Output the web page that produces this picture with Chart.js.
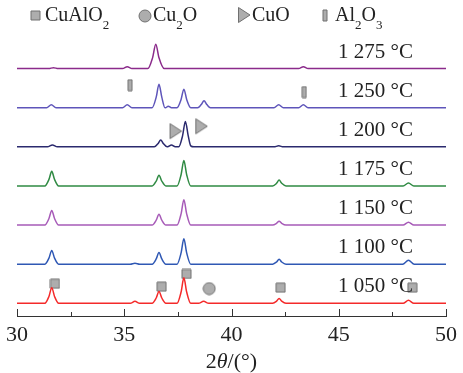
<!DOCTYPE html>
<html>
<head>
<meta charset="utf-8">
<script src="https://cdn.jsdelivr.net/npm/chart.js@4/dist/chart.umd.min.js"></script>
<style>
  body { margin: 0; background: #fff; }
  canvas { display: block; }
</style>
</head>
<body>
<canvas id="xrd" width="463" height="373"></canvas>
<script>
// XRD patterns, [2theta, intensity] (bottom to top)
const temps = ['1 050 °C', '1 100 °C', '1 150 °C', '1 175 °C', '1 200 °C', '1 250 °C', '1 275 °C'];
const colors = ['#f42a2a', '#2f58b4', '#a75bb8', '#2f8a43', '#2b2a6e', '#5e55ba', '#8b2b8b'];

const p1050 = [[30,0],[31.3,0],[31.49,7],[31.62,16],[31.75,7],[31.94,0],[35.28,0],[35.5,2],[35.72,0],
  [36.3,0],[36.49,5.4],[36.62,12],[36.75,5.4],[36.94,0],[37.46,0],[37.65,11.5],[37.78,26],[37.91,11.5],[38.1,0],
  [38.46,0],[38.7,2],[38.94,0],[41.92,0],[42.1,2.2],[42.22,5],[42.34,2.2],[42.54,0],[48.0,0],[48.25,3],[48.5,0],[50,0]];
const p1100 = [[30,0],[31.3,0],[31.49,6.2],[31.62,14],[31.75,6.2],[31.94,0],[35.28,0],[35.5,1],[35.72,0],
  [36.3,0],[36.49,5.4],[36.62,12],[36.75,5.4],[36.94,0],[37.46,0],[37.65,11.5],[37.78,26],[37.91,11.5],[38.1,0],
  [41.92,0],[42.1,2.2],[42.22,5],[42.34,2.2],[42.54,0],[47.98,0],[48.25,4],[48.52,0],[50,0]];
const p1150 = [[30,0],[31.3,0],[31.49,6.7],[31.62,15],[31.75,6.7],[31.94,0],
  [36.3,0],[36.49,5],[36.62,11],[36.75,5],[36.94,0],[37.46,0],[37.65,11.5],[37.78,26],[37.91,11.5],[38.1,0],
  [41.92,0],[42.1,1.8],[42.22,4],[42.34,1.8],[42.54,0],[48.0,0],[48.25,3],[48.5,0],[50,0]];
const p1175 = [[30,0],[31.3,0],[31.49,6.7],[31.62,15],[31.75,6.7],[31.94,0],
  [36.3,0],[36.49,5],[36.62,11],[36.75,5],[36.94,0],[37.46,0],[37.65,11.5],[37.78,26],[37.91,11.5],[38.1,0],
  [41.92,0],[42.1,2.7],[42.22,6],[42.34,2.7],[42.54,0],[48.0,0],[48.25,3],[48.5,0],[50,0]];
const p1200 = [[30,0],[31.42,0],[31.65,2],[31.88,0],[36.4,0],[36.57,3.2],[36.7,7],[36.83,3.2],[37.0,0],
  [37.02,0],[37.2,2],[37.38,0],[37.54,0],[37.72,11.5],[37.85,26],[37.98,11.5],[38.1,1],[38.25,0],
  [41.98,0],[42.2,1],[42.42,0],[50,0]];
const p1250 = [[30,0],[31.38,0],[31.6,3],[31.82,0],[34.92,0],[35.14,3],[35.36,0],
  [36.3,0],[36.49,10.8],[36.62,24],[36.75,10.8],[36.9,0],[36.92,0],[37.05,1.5],[37.2,0],
  [37.46,0],[37.65,8.5],[37.78,19],[37.91,8.5],[38.1,0],[38.42,0],[38.59,3.2],[38.72,7],[38.85,3.2],[39.02,0],
  [41.98,0],[42.2,3],[42.42,0],[43.13,0],[43.35,3],[43.57,0],[50,0]];
const p1275 = [[30,0],[31.48,0],[31.7,1],[31.92,0],[34.92,0],[35.14,2],[35.36,0],
  [36.1,0],[36.32,11],[36.47,25],[36.62,11],[36.86,0],[43.13,0],[43.35,2],[43.57,0],[50,0]];
const patterns = [p1050, p1100, p1150, p1175, p1200, p1250, p1275];

// phase markers [2theta, height in plot units]
const cualo2Marks = [[31.77,33],[36.74,30],[37.9,43],[42.29,29],[48.43,29]];
const cu2oMarks = [[38.96,28]];
const cuoMarks = [[37.39,189],[38.59,194]];
const al2o3Marks = [[35.27,236],[43.39,229]];

const xTicks = { min: 30, max: 50, step: 2.5 };
const baseOffset = 13, stackStep = 40;

const serif = '"Liberation Serif", "DejaVu Serif", serif';
const markFill = '#adadad', markEdge = '#707070';

function markerCanvas(kind) {
  const c = document.createElement('canvas');
  const size = { tri: [14, 18], bar: [6, 13], sq: [11, 11], circ: [14, 14] }[kind];
  c.width = size[0]; c.height = size[1];
  const g = c.getContext('2d');
  g.fillStyle = markFill; g.strokeStyle = markEdge; g.lineWidth = 1;
  g.beginPath();
  if (kind === 'tri') {
    g.moveTo(1.5, 1.5); g.lineTo(13, 9); g.lineTo(1.5, 16.5); g.closePath();
  } else if (kind === 'bar') {
    g.rect(1, 1, 4, 11);
  } else if (kind === 'sq') {
    g.rect(1, 1, 9, 9);
  } else {
    g.arc(7, 7, 6, 0, Math.PI * 2);
  }
  g.fill(); g.stroke();
  return c;
}
const imgSq = markerCanvas('sq'), imgCirc = markerCanvas('circ'), imgTri = markerCanvas('tri'), imgBar = markerCanvas('bar');

const lineSets = patterns.map((p, i) => ({
  type: 'line',
  label: temps[i],
  data: p.map(([x, y]) => ({ x, y: y + baseOffset + i * stackStep })),
  borderColor: colors[i],
  borderWidth: 1.5,
  pointRadius: 0,
  cubicInterpolationMode: 'monotone',
  fill: false
}));

function markSet(marks, img) {
  return {
    type: 'scatter',
    data: marks.map(([x, y]) => ({ x, y })),
    pointStyle: img,
    pointRadius: 6,
    showLine: false
  };
}

function drawChem(ctx, x, y, parts, size) {
  for (const [txt, sub] of parts) {
    ctx.font = (sub ? Math.round(size * 0.65) : size) + 'px ' + serif;
    ctx.fillText(txt, x, sub ? y + 8 : y);
    x += ctx.measureText(txt).width;
  }
}

const decor = {
  id: 'decor',
  afterDraw(chart) {
    const ctx = chart.ctx;
    const xs = chart.scales.x;
    const bottom = chart.chartArea.bottom;
    ctx.save();
    // inward ticks
    ctx.strokeStyle = '#333'; ctx.lineWidth = 1;
    xs.ticks.forEach(t => {
      const px = Math.round(xs.getPixelForValue(t.value)) + 0.5;
      const len = t.value % 5 === 0 ? 7 : 4;
      ctx.beginPath(); ctx.moveTo(px, bottom); ctx.lineTo(px, bottom - len); ctx.stroke();
    });
    // axis title 2θ/(°)
    ctx.fillStyle = '#222'; ctx.textBaseline = 'alphabetic';
    ctx.font = '22px ' + serif;
    const w1 = ctx.measureText('2').width, w3 = ctx.measureText('/(°)').width;
    ctx.font = 'italic 22px ' + serif;
    const w2 = ctx.measureText('θ').width;
    let tx = (xs.left + xs.right) / 2 - (w1 + w2 + w3) / 2;
    ctx.font = '22px ' + serif; ctx.fillText('2', tx, 368); tx += w1;
    ctx.font = 'italic 22px ' + serif; ctx.fillText('θ', tx, 368); tx += w2;
    ctx.font = '22px ' + serif; ctx.fillText('/(°)', tx, 368);
    // temperature labels
    ctx.font = '21px ' + serif; ctx.textAlign = 'right';
    const ys = chart.scales.y;
    temps.forEach((t, i) => {
      const base = ys.getPixelForValue(baseOffset + i * stackStep);
      ctx.fillText(t, 413, base - 11);
    });
    // legend
    ctx.textAlign = 'left';
    ctx.drawImage(imgSq, 30, 10);
    drawChem(ctx, 45, 21, [['CuAlO', 0], ['2', 1]], 20);
    ctx.drawImage(imgCirc, 138, 9);
    drawChem(ctx, 153, 21, [['Cu', 0], ['2', 1], ['O', 0]], 20);
    ctx.drawImage(imgTri, 237, 6);
    drawChem(ctx, 252, 21, [['CuO', 0]], 20);
    ctx.drawImage(imgBar, 322, 9);
    drawChem(ctx, 335, 21, [['Al', 0], ['2', 1], ['O', 0], ['3', 1]], 20);
    ctx.restore();
  }
};

new Chart(document.getElementById('xrd'), {
  type: 'line',
  data: {
    datasets: [
      ...lineSets,
      markSet(cualo2Marks, imgSq),
      markSet(cu2oMarks, imgCirc),
      markSet(cuoMarks, imgTri),
      markSet(al2o3Marks, imgBar)
    ]
  },
  options: {
    responsive: false,
    animation: false,
    layout: { padding: { top: 0, left: 17, right: 13, bottom: 0 } },
    plugins: { legend: { display: false }, tooltip: { enabled: false } },
    scales: {
      x: {
        type: 'linear',
        min: xTicks.min,
        max: xTicks.max,
        grid: { display: false, drawTicks: false },
        border: { display: true, color: '#333', width: 1 },
        ticks: {
          stepSize: xTicks.step,
          autoSkip: false,
          maxRotation: 0,
          padding: 6,
          color: '#222',
          font: { family: serif, size: 22 },
          callback: v => (v % 5 === 0 ? v : '')
        },
        afterFit: s => { s.height = 57; }
      },
      y: { display: false, min: 0, max: 316 }
    }
  },
  plugins: [decor]
});
</script>
</body>
</html>
